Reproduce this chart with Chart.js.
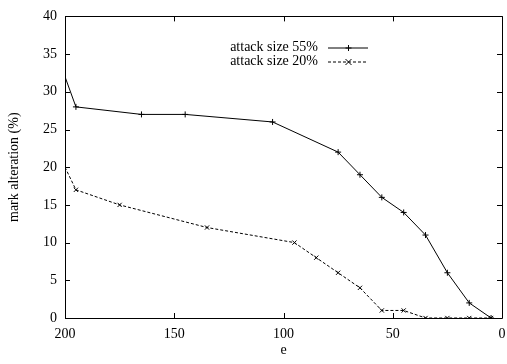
<!DOCTYPE html>
<html>
<head>
<meta charset="utf-8">
<script src="https://cdn.jsdelivr.net/npm/chart.js@4"></script>
<style>
  html, body { margin: 0; padding: 0; background: #fff; }
  #wrap { width: 507px; height: 364px; }
</style>
</head>
<body>
<div id="wrap"><canvas id="chart" width="507" height="364"></canvas></div>
<script>
const xTicks = [200, 150, 100, 50, 0];
const yTicks = [0, 5, 10, 15, 20, 25, 30, 35, 40];

const labels = ['attack size 55%', 'attack size 20%'];
const e55 = [200, 195, 165, 145, 105, 75, 65, 55, 45, 35, 25, 15, 5];
const alt55 = [32, 28, 27, 27, 26, 22, 19, 16, 14, 11, 6, 2, 0];
const e20 = [200, 195, 175, 135, 95, 85, 75, 65, 55, 45, 35, 25, 15, 5];
const alt20 = [20, 17, 15, 12, 10, 8, 6, 4, 1, 1, 0, 0, 0, 0];

const serif = '"Liberation Serif", "DejaVu Serif", serif';

function toPoints(xs, ys) {
  return xs.map((x, i) => ({ x, y: ys[i] }));
}

// gnuplot style frame: box plus inward ticks on all four sides, and the key
const frame = {
  id: 'frame',
  afterDatasetsDraw(chart) {
    const { ctx, chartArea: a, scales } = chart;
    ctx.save();
    ctx.strokeStyle = '#000';
    ctx.lineWidth = 1;
    ctx.beginPath();
    ctx.rect(Math.round(a.left) + 0.5, Math.round(a.top) + 0.5,
      Math.round(a.right - a.left), Math.round(a.bottom - a.top));
    ctx.stroke();

    const len = 5;
    ctx.beginPath();
    xTicks.forEach((v) => {
      const px = Math.round(scales.x.getPixelForValue(v)) + 0.5;
      ctx.moveTo(px, a.bottom); ctx.lineTo(px, a.bottom - len);
      ctx.moveTo(px, a.top); ctx.lineTo(px, a.top + len);
    });
    yTicks.forEach((v) => {
      const py = Math.round(scales.y.getPixelForValue(v)) + 0.5;
      ctx.moveTo(a.left, py); ctx.lineTo(a.left + len, py);
      ctx.moveTo(a.right, py); ctx.lineTo(a.right - len, py);
    });
    ctx.stroke();

    // key
    ctx.font = '14px ' + serif;
    ctx.fillStyle = '#000';
    ctx.textAlign = 'right';
    ctx.textBaseline = 'middle';
    const textRight = 318;
    const rows = [47.5, 61.5];
    chart.data.datasets.forEach((ds, i) => {
      const y = rows[i];
      ctx.fillText(ds.label, textRight, y);
      ctx.beginPath();
      ctx.setLineDash(ds.borderDash || []);
      ctx.moveTo(328, y + 0.5);
      ctx.lineTo(368, y + 0.5);
      ctx.stroke();
      ctx.setLineDash([]);
      ctx.beginPath();
      const cx = 348.5, cy = y + 0.5, r = 3;
      if (ds.pointStyle === 'cross') {
        ctx.moveTo(cx - r, cy); ctx.lineTo(cx + r, cy);
        ctx.moveTo(cx, cy - r); ctx.lineTo(cx, cy + r);
      } else {
        ctx.moveTo(cx - r, cy - r); ctx.lineTo(cx + r, cy + r);
        ctx.moveTo(cx - r, cy + r); ctx.lineTo(cx + r, cy - r);
      }
      ctx.stroke();
    });
    ctx.restore();
  }
};

new Chart(document.getElementById('chart'), {
  type: 'line',
  data: {
    datasets: [
      {
        label: labels[0],
        data: toPoints(e55, alt55),
        borderColor: '#000',
        backgroundColor: '#000',
        borderWidth: 1,
        pointStyle: 'cross',
        pointRadius: (c) => (c.dataIndex === 0 ? 0 : 3),
        pointBorderWidth: 1,
        tension: 0,
        fill: false
      },
      {
        label: labels[1],
        data: toPoints(e20, alt20),
        borderColor: '#000',
        backgroundColor: '#000',
        borderWidth: 1,
        borderDash: [3, 2],
        pointStyle: 'crossRot',
        pointRadius: (c) => (c.dataIndex === 0 ? 0 : 3),
        pointBorderWidth: 1,
        tension: 0,
        fill: false
      }
    ]
  },
  options: {
    responsive: false,
    animation: false,
    layout: { padding: { top: 9, right: 3, left: 0, bottom: 0 } },
    plugins: {
      legend: { display: false },
      tooltip: { enabled: false }
    },
    scales: {
      x: {
        type: 'linear',
        reverse: true,
        min: 0,
        max: 200,
        afterBuildTicks: (s) => { s.ticks = xTicks.map((v) => ({ value: v })); },
        afterFit: (s) => { s.height = 46; s.paddingLeft = 0; s.paddingRight = 0; },
        grid: { display: false, drawTicks: false },
        border: { display: false },
        ticks: {
          color: '#000',
          padding: 8,
          maxRotation: 0,
          font: { family: serif, size: 14 }
        },
        title: {
          display: true,
          text: 'e',
          color: '#000',
          font: { family: serif, size: 14 },
          padding: { top: 0, bottom: 5 }
        }
      },
      y: {
        min: 0,
        max: 40,
        afterBuildTicks: (s) => { s.ticks = yTicks.map((v) => ({ value: v })); },
        afterFit: (s) => { s.width = 65; },
        grid: { display: false, drawTicks: false },
        border: { display: false },
        ticks: {
          color: '#000',
          padding: 8,
          font: { family: serif, size: 14 }
        },
        title: {
          display: true,
          text: 'mark alteration (%)',
          color: '#000',
          font: { family: serif, size: 14 },
          padding: { top: 6, bottom: 0 }
        }
      }
    }
  },
  plugins: [frame]
});
</script>
</body>
</html>
